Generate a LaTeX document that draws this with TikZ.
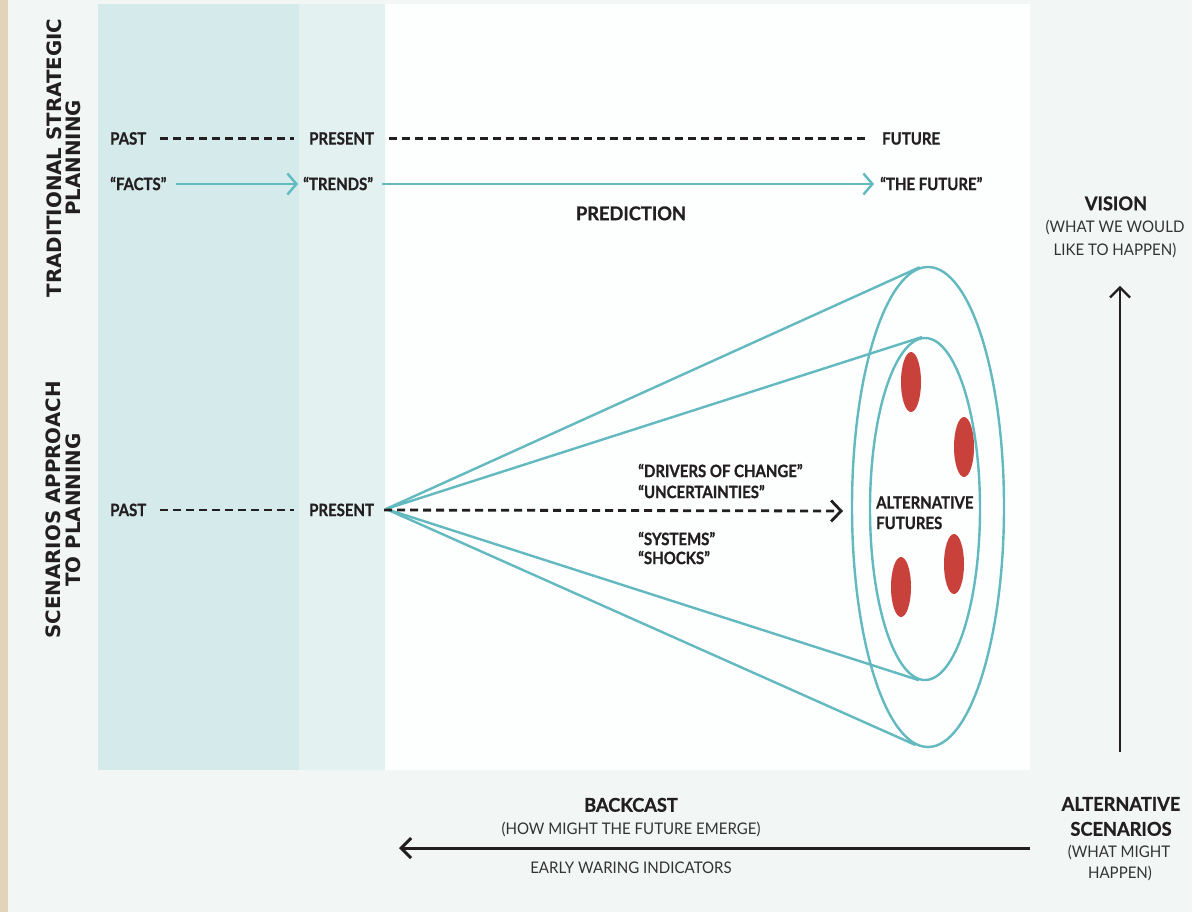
\documentclass[tikz,border=0pt]{standalone}
\usepackage{fontspec}
\setmainfont{Lato}
\newfontfamily\lblfont{Lato}[FakeStretch=0.88, BoldFeatures={FakeBold=0.8}]
\newfontfamily\headfont{Lato}[FakeStretch=0.96, BoldFeatures={FakeBold=0.8}]
\newfontfamily\regfont{Lato}[FakeStretch=0.94]
\newfontfamily\rotfont{DejaVu Sans}
\usetikzlibrary{arrows.meta,shapes.geometric}
\definecolor{bg}{HTML}{F2F7F6}
\definecolor{beige}{HTML}{E3D3B8}
\definecolor{panelA}{HTML}{D5EAEB}
\definecolor{panelB}{HTML}{E4F1F1}
\definecolor{panelW}{HTML}{FDFEFE}
\definecolor{teal}{HTML}{62B9BF}
\definecolor{ink}{HTML}{231F20}
\definecolor{ink2}{HTML}{333333}
\definecolor{dotred}{HTML}{C8413A}
\begin{document}
\begin{tikzpicture}[x=1pt,y=-1pt,
  lbl/.style={font=\lblfont\bfseries\fontsize{17}{20}\selectfont, text=ink, inner sep=0pt, text height=12.2pt, text depth=0pt},
  head/.style={font=\headfont\bfseries\fontsize{19}{22}\selectfont, text=ink, inner sep=0pt, text height=13.5pt, text depth=0pt},
  reg/.style={font=\regfont\fontsize{16}{20}\selectfont, text=ink2, inner sep=0pt, text height=11.5pt, text depth=0pt},
  rot/.style={font=\rotfont\bfseries\fontsize{19.8}{22}\selectfont, text=ink, inner sep=0pt, rotate=90, text height=14.4pt, text depth=0pt},
  dline/.style={draw=ink, line width=2.8pt, dash pattern=on 8pt off 5pt},
  tarrow/.style={draw=teal, line width=2.4pt, -{Straight Barb[length=9pt,width=21pt]}},
  karrow/.style={draw=ink, line width=2.2pt, -{Straight Barb[length=10pt,width=20pt]}},
  cone/.style={draw=teal, line width=2.4pt},
  ring/.style={ellipse, draw=teal, line width=2.4pt, inner sep=0pt},
  dot/.style={ellipse, fill=dotred, inner sep=0pt, minimum width=20pt, minimum height=60pt}
]
\useasboundingbox (0,0) rectangle (1192,912);
% backgrounds
\fill[bg] (0,0) rectangle (1192,912);
\fill[beige] (0,0) rectangle (8,912);
\fill[panelA] (98,4) rectangle (299,770);
\fill[panelB] (299,4) rectangle (385,770);
\fill[panelW] (385,4) rectangle (1030,770);

% side labels
\node[rot] (trad1) at (54,158) {TRADITIONAL STRATEGIC};
\node[rot] (trad2) at (73.5,158) {PLANNING};
\node[rot] (scen1) at (53,510) {SCENARIOS APPROACH};
\node[rot] (scen2) at (73,510) {TO PLANNING};

% traditional rows
\node[lbl,anchor=west] (past1) at (110,138.5) {PAST};
\node[lbl,anchor=west] (pres1) at (309,138.5) {PRESENT};
\node[lbl,anchor=west] (fut1) at (882,138.5) {FUTURE};
\draw[dline, shorten <=14pt, shorten >=15pt] (past1.east) -- (pres1.west);
\draw[dline, shorten <=15pt, shorten >=14pt] (pres1.east) -- (fut1.west);

\node[lbl,anchor=west] (facts) at (110,184) {“FACTS”};
\node[lbl,anchor=west] (trends) at (303,184) {“TRENDS”};
\node[lbl,anchor=west] (thefut) at (880,184) {“THE FUTURE”};
\draw[tarrow, shorten <=9pt, shorten >=5pt] (facts.east) -- (trends.west);
\draw[tarrow, shorten <=9pt, shorten >=6pt] (trends.east) -- (thefut.west);
\node[head] (pred) at (631,213.5) {PREDICTION};

% scenarios row
\node[lbl,anchor=west] (past2) at (110,510) {PAST};
\node[lbl,anchor=west] (pres2) at (309,510) {PRESENT};
\draw[dline, shorten <=14pt, shorten >=15pt] (past2.east) -- (pres2.west);

% cone
\coordinate (apex) at (386,509);
\node[ring, minimum width=152pt, minimum height=480pt] (outer) at (928,507) {};
\node[ring, minimum width=110pt, minimum height=342pt] (inner) at (925,509) {};
\draw[cone] (apex) -- (outer.92.6);
\draw[cone] (apex) -- (inner.91.9);
\draw[cone] (apex) -- (inner.268.1);
\draw[cone] (apex) -- (outer.267.4);

\node[dot] (f1) at (911,382) {};
\node[dot] (f2) at (964,447) {};
\node[dot] (f3) at (954,564) {};
\node[dot] (f4) at (901,587) {};

\coordinate (drv) at (843,511);
\draw[dline, -{Straight Barb[length=10pt,width=21pt]}, shorten <=10pt] (pres2.east) -- (drv);

\node[lbl,anchor=west] (d1) at (638,471) {“DRIVERS OF CHANGE”};
\node[lbl,anchor=west] (d2) at (638,492) {“UNCERTAINTIES”};
\node[lbl,anchor=west] (d3) at (638,539) {“SYSTEMS”};
\node[lbl,anchor=west] (d4) at (638,558) {“SHOCKS”};

\node[lbl,anchor=west] (af1) at (876,502.5) {ALTERNATIVE};
\node[lbl,anchor=west] (af2) at (876,523) {FUTURES};

% vision
\node[head] (vis1) at (1116,203.5) {VISION};
\node[reg] (vis2) at (1115,227) {(WHAT WE WOULD};
\node[reg] (vis3) at (1115,250) {LIKE TO HAPPEN)};
\coordinate (vbot) at (1120,752);
\draw[karrow, shorten >=30pt] (vbot) -- (vbot |- vis3.south);

% backcast
\node[head] (back1) at (631,805) {BACKCAST};
\node[reg] (back2) at (631,829) {(HOW MIGHT THE FUTURE EMERGE)};
\node[reg] (back3) at (631,868) {EARLY WARING INDICATORS};
\coordinate (bright) at (1030,848);
\coordinate (bleft) at (399,848);
\draw[karrow, line width=3pt] (bright) -- (bleft);

\node[head] (alt1) at (1121,804) {ALTERNATIVE};
\node[head] (alt2) at (1121,829) {SCENARIOS};
\node[reg] (alt3) at (1119,852) {(WHAT MIGHT};
\node[reg] (alt4) at (1120,873) {HAPPEN)};
\end{tikzpicture}
\end{document}
